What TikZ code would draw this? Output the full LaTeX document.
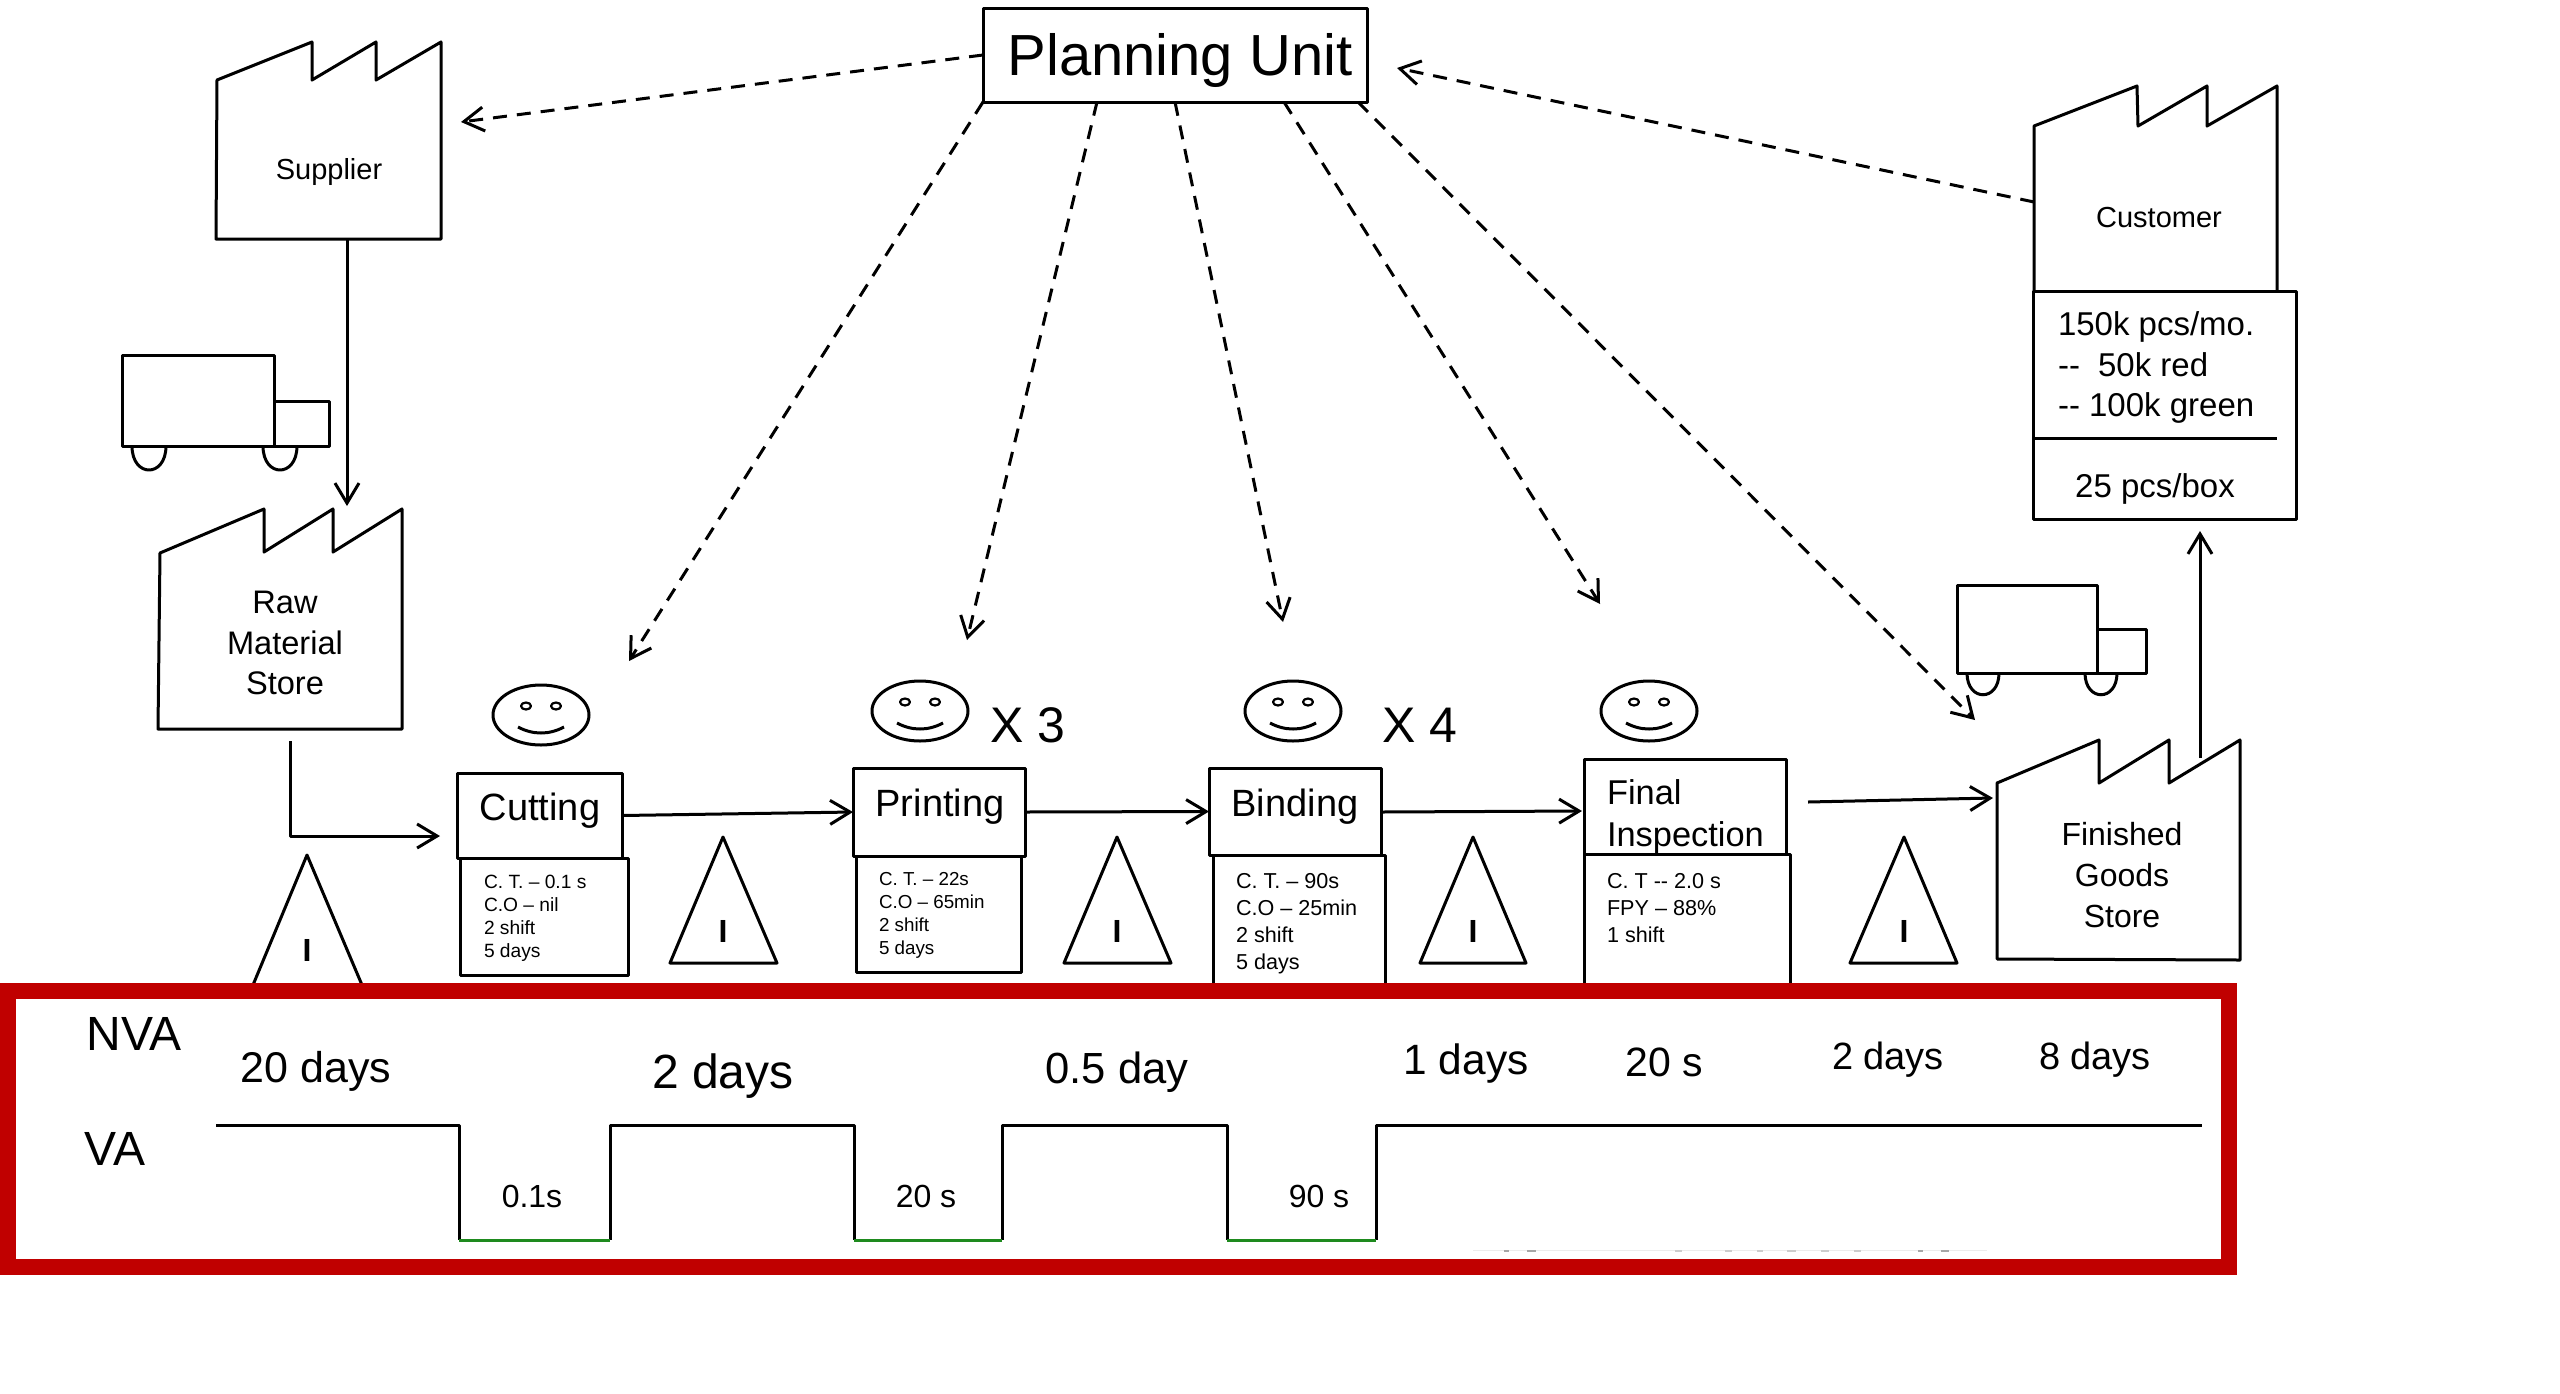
\documentclass[tikz,border=0pt]{standalone}
\usepackage{fontspec}
\setmainfont{Liberation Sans}
\usetikzlibrary{arrows.meta}
\definecolor{framered}{HTML}{C00000}
\definecolor{vagreen}{HTML}{1E8A1E}
\newcommand\fz[2]{\fontsize{#1}{#2}\selectfont}
\newcommand\smileyface[3]{% x y, name
  \coordinate (#3) at (#1,#2);
  \draw[ln] (#3) ellipse [x radius=48, y radius=30];
  \draw[ln,line width=1.1pt] ([shift={(-15,-9)}]#3) ellipse [x radius=5, y radius=3.5];
  \draw[ln,line width=1.1pt] ([shift={(15,-9)}]#3) ellipse [x radius=5, y radius=3.5];
  \draw[ln] ([shift={(-23,12)}]#3) .. controls ([shift={(-8,20)}]#3) and ([shift={(8,20)}]#3) .. ([shift={(23,12)}]#3);
}
\tikzset{
  ln/.style={line width=1.5pt,line join=round,black},
  arr/.style={ln,-{Straight Barb[length=10pt,width=12pt,line width=1.5pt]}},
  dsh/.style={arr,dash pattern=on 7pt off 5pt},
  boxn/.style n args={2}{ln,draw,fill=white,anchor=north west,inner sep=0pt,outer sep=0pt,minimum width=#1*0.5pt,minimum height=#2*0.5pt},
  txt/.style={inner sep=0pt,outer sep=0pt,anchor=base},
  blk/.style={inner sep=0pt,outer sep=0pt,align=left,anchor=north west},
  ctr/.style={inner sep=0pt,outer sep=0pt,align=center,anchor=north},
  ifont/.style={font=\fz{16}{18}\bfseries},
}
\begin{document}
\begin{tikzpicture}[x=0.5pt,y=-0.5pt]
\useasboundingbox[fill=white] (0,0) rectangle (2560,1393);

% factories
\draw[ln] (217,80) -- (312,42) -- (312,80) -- (376,42) -- (376,80) -- (441,42) -- (441,239) -- (216,239) -- cycle;
\node[txt,font=\fz{14.5}{17}] (supplier) at (329,179) {Supplier};
\draw[ln] (160,553) -- (264,509) -- (264,552) -- (333,509) -- (333,552) -- (402,509) -- (402,729) -- (158,729) -- cycle;
\node[ctr,font=\fz{16.3}{20.3}] (raw) at (285,591) {Raw\\Material\\Store};
\draw[ln] (1997,783) -- (2099,740) -- (2099,783) -- (2169,740) -- (2169,783) -- (2240,740) -- (2240,960) -- (1997,959) -- cycle;
\node[ctr,font=\fz{16}{20.5}] (fgs) at (2122,822) {Finished\\Goods\\Store};
\draw[ln] (2034,291) -- (2034,126) -- (2137,86) -- (2138,126) -- (2207,86) -- (2207,126) -- (2277,86) -- (2277,291);
\node[txt,font=\fz{14.5}{17}] (customer) at (2159,227) {Customer};

% customer data
\node[boxn={263}{228}] (custdata) at (2033,291) {};
\draw[ln] (2034,438) -- (2277,438);
\node[blk,font=\fz{16.5}{20.25}] (custtext) at (2058,312) {150k pcs/mo.\\-{}-\hspace{0.55em}50k red\\-{}- 100k green};
\node[txt,font=\fz{16.5}{20}] (custbox) at (2155,497) {25 pcs/box};

% planning
\node[boxn={384}{94}] (plan) at (983,8) {};
\node[txt,font=\fz{29}{34}] (plantext) at (1180,75) {Planning Unit};

% trucks
\draw[ln] (122,355) rectangle (274,446);
\draw[ln] (274,401) rectangle (329,446);
\draw[ln] (132,446) .. controls (132,478) and (166,478) .. (166,446);
\draw[ln] (263,446) .. controls (263,478) and (297,478) .. (297,446);
\draw[ln] (1957,585) rectangle (2097,673);
\draw[ln] (2097,629) rectangle (2146,673);
\draw[ln] (1967,673) .. controls (1967,702) and (1999,702) .. (1999,673);
\draw[ln] (2085,673) .. controls (2085,702) and (2117,702) .. (2117,673);

% triangles
\draw[ln] (307,855) -- (362,985) -- (253,985) -- cycle;
\node[txt,ifont] (iA) at (307,961) {I};
\draw[ln] (723,837) -- (777,963) -- (670,963) -- cycle;
\node[txt,ifont] (iB) at (723,942) {I};
\draw[ln] (1117,837) -- (1171,963) -- (1064,963) -- cycle;
\node[txt,ifont] (iC) at (1117,942) {I};
\draw[ln] (1473,837) -- (1526,963) -- (1420,963) -- cycle;
\node[txt,ifont] (iD) at (1473,942) {I};
\draw[ln] (1904,837) -- (1957,963) -- (1850,963) -- cycle;
\node[txt,ifont] (iE) at (1904,942) {I};

% process boxes
\node[boxn={168}{117}] (cutdata) at (460,858) {};
\node[boxn={165}{85}] (cut) at (457,773) {};
\node[txt,font=\fz{19}{23}] (cuttext) at (540,820) {Cutting};
\node[blk,font=\fz{9.6}{11.5}] (cuttxt) at (484,875) {C. T. – 0.1 s\\C.O – nil\\2 shift\\5 days};

\node[boxn={165}{117}] (printdata) at (856,855) {};
\node[boxn={172}{88}] (print) at (853,768) {};
\node[txt,font=\fz{19}{23}] (printtext) at (940,816) {Printing};
\node[blk,font=\fz{9.4}{11.5}] (printtxt) at (879,872) {C. T. – 22s\\C.O – 65min\\2 shift\\5 days};

\node[boxn={172}{140}] (binddata) at (1213,855) {};
\node[boxn={172}{87}] (bind) at (1209,768) {};
\node[txt,font=\fz{19}{23}] (bindtext) at (1295,816) {Binding};
\node[blk,font=\fz{10.8}{13.6}] (bindtxt) at (1236,873) {C. T. – 90s\\C.O – 25min\\2 shift\\5 days};

\node[boxn={206}{140}] (fidata) at (1584,854) {};
\node[boxn={202}{95}] (fi) at (1584,759) {};
\node[blk,font=\fz{17.2}{21}] (fitext) at (1607,780) {Final\\Inspection};
\node[blk,font=\fz{10.8}{13.6}] (fitxt) at (1607,873) {C. T -{}- 2.0 s\\FPY – 88\%\\1 shift};

% smileys
\smileyface{541}{715}{smA}
\smileyface{920}{711}{smB}
\smileyface{1293}{711}{smC}
\smileyface{1649}{711}{smD}
\node[txt,font=\fz{25}{30}] (xthree) at (1028,742) {X 3};
\node[txt,font=\fz{25}{30}] (xfour) at (1420,742) {X 4};

% solid connectors
\coordinate (supOut) at (347,239);
\coordinate (rawIn) at (347,506);
\draw[arr] (supOut) -- (rawIn);
\coordinate (rawOut) at (290,741);
\coordinate (cutIn) at (440,836);
\draw[arr] (rawOut) |- (cutIn);
\draw[arr] (cut.east) -- (print.west);
\draw[arr] (print.east) -- (bind.west);
\coordinate (fiIn) at (1582,811);
\coordinate (bindOut) at (1382,812);
\draw[arr] (bindOut) -- (fiIn);
\coordinate (fiOut) at (1808,802);
\coordinate (fgsIn) at (1993,798);
\draw[arr] (fiOut) -- (fgsIn);
\coordinate (fgsOut) at (2200,758);
\coordinate (custIn) at (2200,531);
\draw[arr] (fgsOut) -- (custIn);

% dashed connectors
\coordinate (dA) at (461,122);
\coordinate (dB) at (629,661);
\coordinate (dC) at (967,640);
\coordinate (dD) at (1283,622);
\coordinate (dE) at (1600,604);
\coordinate (dF) at (1975,720);
\coordinate (dG) at (1397,68);
\coordinate (custOut) at (2034,202);
\coordinate (pB) at (1097,102);
\coordinate (pC) at (1175,102);
\coordinate (pD) at (1284,102);
\coordinate (pE) at (1358,102);
\draw[dsh] (plan.west) -- (dA);
\draw[dsh] (plan.south west) -- (dB);
\draw[dsh] (pB) -- (dC);
\draw[dsh] (pC) -- (dD);
\draw[dsh] (pD) -- (dE);
\draw[dsh] (pE) -- (dF);
\draw[dsh] (custOut) -- (dG);

% frame
\draw[framered,line width=8pt,fill=white] (8,991) rectangle (2229,1267);
\node[txt,font=\fz{24}{28}] (nva) at (134,1050) {NVA};
\node[txt,font=\fz{24}{28}] (va) at (115,1165) {VA};
\node[txt,font=\fz{21.5}{25}] (tA) at (316,1082) {20 days};
\node[txt,font=\fz{24}{28}] (tB) at (723,1088) {2 days};
\node[txt,font=\fz{21.8}{25}] (tC) at (1117,1083) {0.5 day};
\node[txt,font=\fz{21.2}{25}] (tD) at (1466,1074) {1 days};
\node[txt,font=\fz{20.5}{25}] (tE) at (1664,1076) {20 s};
\node[txt,font=\fz{19}{23}] (tF) at (1888,1069) {2 days};
\node[txt,font=\fz{19}{23}] (tG) at (2095,1069) {8 days};
\node[txt,font=\fz{16}{20}] (vA) at (532,1207) {0.1s};
\node[txt,font=\fz{16}{20}] (vB) at (926,1207) {20 s};
\node[txt,font=\fz{16}{20}] (vC) at (1319,1207) {90 s};

% timeline
\draw[ln] (216,1125) -- (459,1125) -- (459,1240);
\draw[ln] (610,1240) -- (610,1125) -- (854,1125) -- (854,1240);
\draw[ln] (1002,1240) -- (1002,1125) -- (1227,1125) -- (1227,1240);
\draw[ln] (1376,1240) -- (1376,1125) -- (2202,1125);
\draw[vagreen,line width=1.5pt] (459,1240) -- (610,1240);
\draw[vagreen,line width=1.5pt] (854,1240) -- (1002,1240);
\draw[vagreen,line width=1.5pt] (1227,1240) -- (1376,1240);

% faint clipped remnants above the frame's lower edge
\draw[gray!15,line width=0.5pt] (1473,1250) -- (1987,1250);
\foreach \a/\b in {1504/1509,1527/1536,1918/1923,1941/1949}
  \draw[gray!70,line width=1pt] (\a,1251) -- (\b,1251);
\foreach \a/\b in {1675/1682,1725/1732,1757/1763,1787/1796,1821/1829,1854/1861}
  \draw[gray!40,line width=1pt] (\a,1251) -- (\b,1251);
\end{tikzpicture}
\end{document}
